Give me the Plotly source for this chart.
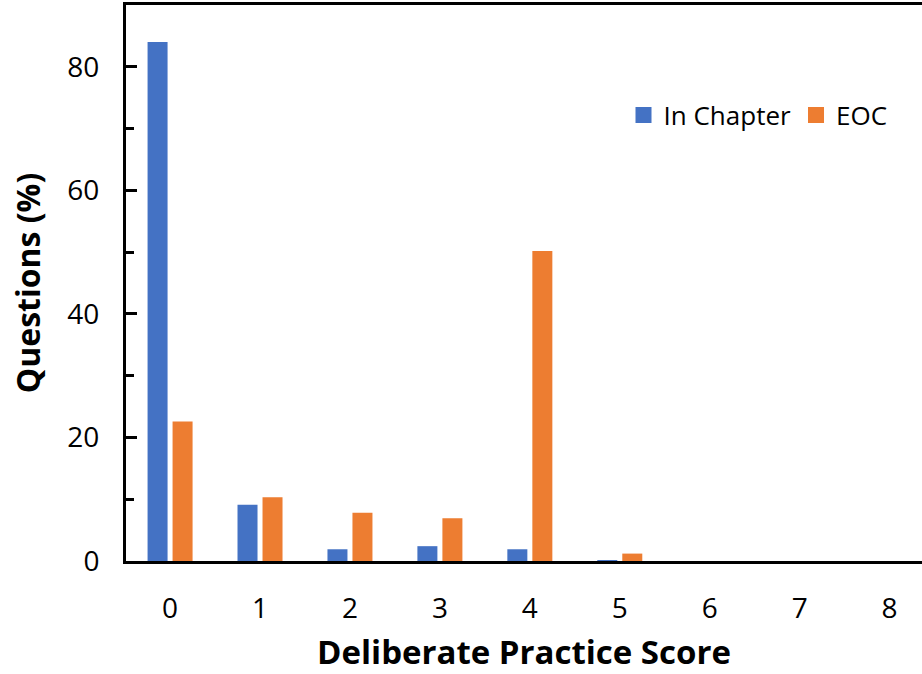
import plotly.graph_objects as go

scores = [0, 1, 2, 3, 4, 5, 6, 7, 8]
in_chapter = [84.0, 9.1, 1.9, 2.4, 1.9, 0.1, 0, 0, 0]
eoc = [22.6, 10.3, 7.8, 6.9, 50.2, 1.2, 0, 0, 0]
y_ticks = [0, 20, 40, 60, 80]

BLUE = "#4472C4"
ORANGE = "#ED7D31"
FONT = "Open Sans"

fig = go.Figure()
fig.add_trace(go.Bar(x=scores, y=in_chapter, name="In Chapter", marker=dict(color=BLUE, line=dict(width=0)), showlegend=False))
fig.add_trace(go.Bar(x=scores, y=eoc, name="EOC", marker=dict(color=ORANGE, line=dict(width=0)), showlegend=False))
# legend entries
fig.add_trace(go.Scatter(x=[None], y=[None], mode="markers", name="In Chapter",
                         marker=dict(symbol="square", size=18, color=BLUE)))
fig.add_trace(go.Scatter(x=[None], y=[None], mode="markers", name="EOC",
                         marker=dict(symbol="square", size=18, color=ORANGE)))

fig.update_layout(
    width=922, height=674,
    margin=dict(l=126, r=0, t=5, b=113, autoexpand=False),
    plot_bgcolor="white", paper_bgcolor="white",
    barmode="group", bargap=0.444, bargroupgap=0.2,
    font=dict(family=FONT, size=28, color="black"),
    legend=dict(orientation="h", x=0.625, y=0.802, xanchor="left", yanchor="middle",
                font=dict(size=26), bgcolor="rgba(0,0,0,0)", itemsizing="trace"),
)
fig.update_xaxes(
    range=[-0.49, 8.36], tickvals=scores, ticktext=[str(s) for s in scores],
    showline=True, linecolor="black", linewidth=3, mirror=True,
    ticks="", showgrid=False, zeroline=False, automargin=False,
    ticklabelstandoff=20,
    title=dict(text="<b>Deliberate Practice Score</b>", font=dict(size=33), standoff=25),
)
fig.update_yaxes(
    range=[0, 90], tickvals=y_ticks,
    showline=True, linecolor="black", linewidth=3, automargin=False,
    ticks="inside", ticklen=11, tickwidth=3, tickcolor="black",
    minor=dict(tickvals=[10, 30, 50, 70], ticks="inside", ticklen=8, tickwidth=2.5, tickcolor="black"),
    showgrid=False, zeroline=False,
    ticklabelstandoff=18,
    title=dict(text="<b>Questions (%)</b>", font=dict(size=32), standoff=18),
)

fig.write_html("out.html", config={"displayModeBar": False},
               post_script="document.body.style.margin='0';")
